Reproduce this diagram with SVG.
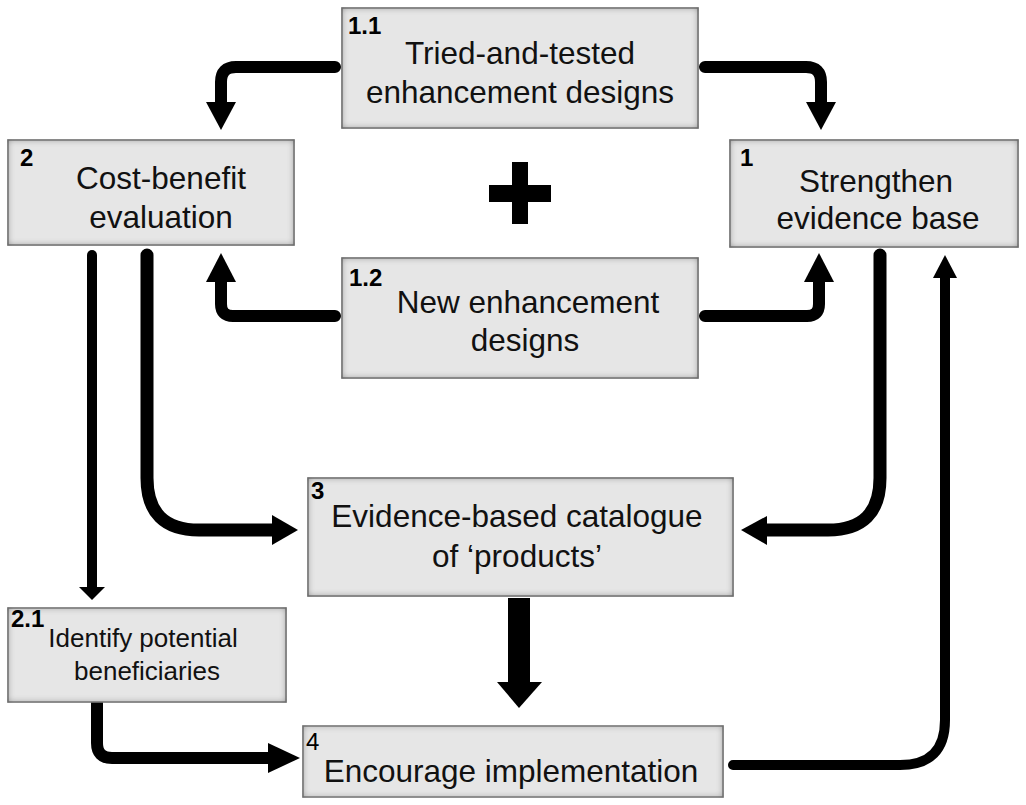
<svg xmlns="http://www.w3.org/2000/svg" width="1026" height="805" viewBox="0 0 1026 805">
<defs>
<filter id="bevel" x="-5%" y="-5%" width="110%" height="110%">
<feFlood flood-color="#5a5a5a"/>
<feComposite in2="SourceAlpha" operator="out"/>
<feGaussianBlur stdDeviation="3.5"/>
<feComposite in2="SourceAlpha" operator="in" result="sh"/>
<feMerge><feMergeNode in="SourceGraphic"/><feMergeNode in="sh"/></feMerge>
</filter>
</defs>
<style>
.box{fill:#e6e6e6;stroke:#808080;stroke-width:1.5;filter:url(#bevel)}
.t{font-family:"Liberation Sans",Arial,sans-serif;font-size:31.5px;fill:#111;text-anchor:middle}
.s{font-family:"Liberation Sans",Arial,sans-serif;font-size:26px;fill:#111;text-anchor:middle}
.n{font-family:"Liberation Sans",Arial,sans-serif;font-size:24px;font-weight:bold;fill:#000}
.nr{font-family:"Liberation Sans",Arial,sans-serif;font-size:24px;fill:#000}
.c{fill:none;stroke:#000;stroke-linecap:round;stroke-linejoin:round}
.h{fill:#000}
</style>
<rect width="1026" height="805" fill="#fff"/>
<g id="connectors">
<path class="c" stroke-width="12" d="M335,67 H236 Q221,67 221,82 V104"/>
<polygon class="h" points="206,102 236,102 221,130"/>
<path class="c" stroke-width="12" d="M705,67 H806 Q821,67 821,82 V104"/>
<polygon class="h" points="806,102 836,102 821,130"/>
<path class="c" stroke-width="12" d="M335,316 H233 Q221,316 221,304 V280"/>
<polygon class="h" points="206,282 236,282 221,253"/>
<path class="c" stroke-width="12" d="M705,316 H807 Q819,316 819,304 V280"/>
<polygon class="h" points="804,282 834,282 819,253"/>
<path class="c" stroke-width="10" d="M92,255 V590"/>
<polygon class="h" points="79,587 105,587 92,600"/>
<path class="c" stroke-width="13" d="M147,255 V478 Q147,530 199,530 H274"/>
<polygon class="h" points="272,515 272,545 298,530"/>
<path class="c" stroke-width="13" d="M880,255 V478 Q880,530 828,530 H765"/>
<polygon class="h" points="767,516 767,545 741,530"/>
<rect class="h" x="508" y="598" width="22" height="86"/>
<polygon class="h" points="497,682 542,682 519,708"/>
<path class="c" stroke-width="12" d="M97,702 V743 Q97,758 112,758 H270"/>
<polygon class="h" points="268,743 268,773 300,758"/>
<path class="c" stroke-width="10" d="M733,765 H900 Q945,765 945,720 V276"/>
<polygon class="h" points="933,278 957,278 945,255"/>
</g>
<g id="plus">
<rect class="h" x="512" y="162" width="16" height="62"/>
<rect class="h" x="489" y="185" width="62" height="17"/>
</g>
<g id="n11">
<rect class="box" x="342" y="8" width="356" height="120"/>
<text class="n" x="348" y="34">1.1</text>
<text class="t" x="520" y="64">Tried-and-tested</text>
<text class="t" x="520" y="103">enhancement designs</text>
</g>
<g id="n2">
<rect class="box" x="8" y="140" width="286" height="105"/>
<text class="n" x="20" y="166">2</text>
<text class="t" x="161" y="189">Cost-benefit</text>
<text class="t" x="161" y="228">evaluation</text>
</g>
<g id="n1">
<rect class="box" x="730" y="140" width="288" height="107"/>
<text class="n" x="740" y="166">1</text>
<text class="t" x="876" y="192">Strengthen</text>
<text class="t" x="878" y="229">evidence base</text>
</g>
<g id="n12">
<rect class="box" x="342" y="258" width="356" height="120"/>
<text class="n" x="349" y="286">1.2</text>
<text class="t" x="528" y="313">New enhancement</text>
<text class="t" x="525" y="351">designs</text>
</g>
<g id="n3">
<rect class="box" x="308" y="478" width="425" height="118"/>
<text class="n" x="311" y="499">3</text>
<text class="t" x="517" y="527">Evidence-based catalogue</text>
<text class="t" x="517" y="567">of ‘products’</text>
</g>
<g id="n21">
<rect class="box" x="8" y="608" width="278" height="94"/>
<text class="n" x="11" y="627">2.1</text>
<text class="s" x="143" y="647">Identify potential</text>
<text class="s" x="147" y="680">beneficiaries</text>
</g>
<g id="n4">
<rect class="box" x="303" y="726" width="420" height="71"/>
<text class="nr" x="306" y="750">4</text>
<text class="t" x="511" y="782">Encourage implementation</text>
</g>
</svg>
